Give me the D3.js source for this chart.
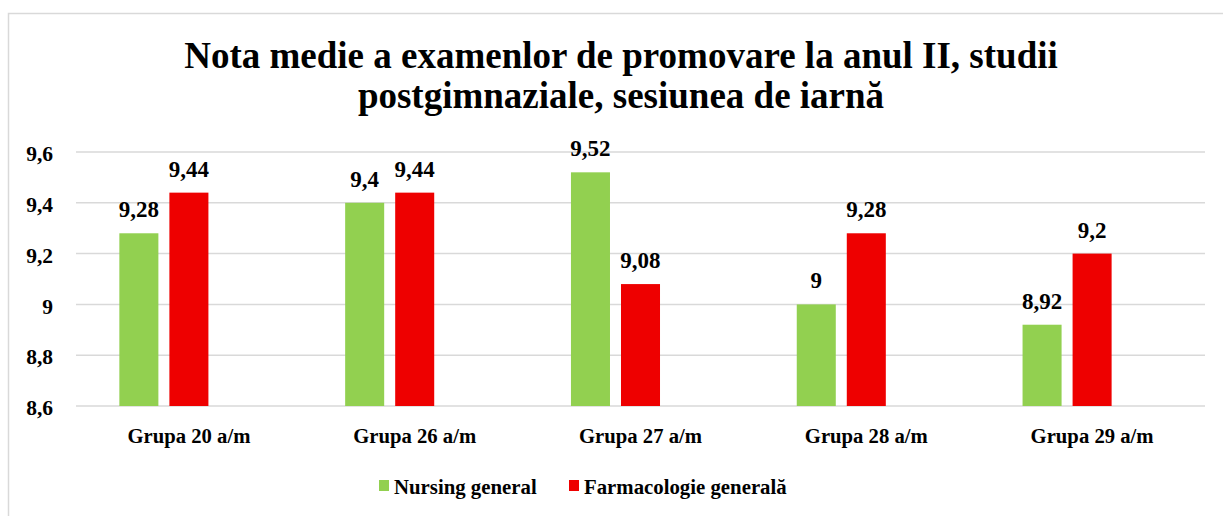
<!DOCTYPE html>
<html lang="ro">
<head>
  <meta charset="UTF-8">
  <title>Nota medie a examenlor de promovare</title>
  <script src="https://d3js.org/d3.v7.min.js"></script>
  <style>
    body {
      margin: 0;
      background: #fff;
    }
    .grid line { stroke: #d9d9d9; stroke-width: 1.5; }
    svg text {
      fill: #000;
      font-weight: bold;
      font-family: "Liberation Serif", "Times New Roman", serif;
    }
  </style>
</head>
<body>
  <div id="chart"></div>
  <script>
    const categories = ["Grupa 20 a/m", "Grupa 26 a/m", "Grupa 27 a/m", "Grupa 28 a/m", "Grupa 29 a/m"];
    const seriesNames = ["Nursing general", "Farmacologie generală"];
    const nursing = [9.28, 9.4, 9.52, 9, 8.92];
    const farmacologie = [9.44, 9.44, 9.08, 9.28, 9.2];
    const yTicks = [8.6, 8.8, 9, 9.2, 9.4, 9.6];
    const colors = ["#92d050", "#ee0000"];

    const W = 1223, H = 516;
    const plot = {left: 76, right: 1205, top: 152, bottom: 406};

    const svg = d3.select("#chart").append("svg")
      .attr("width", W)
      .attr("height", H);

    // chart frame (only top and left visible)
    svg.append("path")
      .attr("d", "M8.5," + H + "V13.5H" + W)
      .attr("fill", "none")
      .attr("stroke", "#d9d9d9")
      .attr("stroke-width", 1.5);

    const x0 = d3.scaleBand().domain(categories)
      .range([plot.left, plot.right])
      .paddingInner(0.384).paddingOuter(0.192);
    // three slots per group, the third one is empty (as in the original)
    const x1 = d3.scaleBand().domain([0, 1, 2])
      .range([0, x0.bandwidth()])
      .paddingInner(0.22);
    const y = d3.scaleLinear().domain([8.6, 9.6]).range([plot.bottom, plot.top]);

    const fmt = v => String(v).replace(".", ",");

    // gridlines
    svg.append("g").attr("class", "grid")
      .selectAll("line")
      .data(yTicks)
      .enter().append("line")
      .attr("x1", plot.left).attr("x2", plot.right)
      .attr("y1", d => y(d)).attr("y2", d => y(d));

    // y axis labels
    svg.append("g")
      .attr("transform", "translate(53,0)")
      .call(d3.axisLeft(y).tickValues(yTicks).tickSize(0).tickPadding(0).tickFormat(fmt))
      .call(g => g.select(".domain").remove())
      .selectAll("text")
      .style("font-size", "21.5px")
      .attr("dy", "0.4em");

    const rows = categories.map((c, i) => ({cat: c, vals: [nursing[i], farmacologie[i]]}));

    const groups = svg.append("g")
      .selectAll("g")
      .data(rows)
      .enter().append("g")
      .attr("transform", d => "translate(" + x0(d.cat) + ",0)");

    groups.selectAll("rect")
      .data(d => d.vals.map((v, k) => ({k, v})))
      .enter().append("rect")
      .attr("x", d => x1(d.k))
      .attr("y", d => y(d.v))
      .attr("width", x1.bandwidth())
      .attr("height", d => y(8.6) - y(d.v))
      .attr("fill", d => colors[d.k]);

    groups.selectAll("text")
      .data(d => d.vals.map((v, k) => ({k, v})))
      .enter().append("text")
      .attr("x", d => x1(d.k) + x1.bandwidth() / 2)
      .attr("y", d => y(d.v) - 16)
      .attr("text-anchor", "middle")
      .style("font-size", "23px")
      .text(d => fmt(d.v));

    // category labels
    svg.append("g")
      .selectAll("text")
      .data(categories)
      .enter().append("text")
      .attr("x", d => x0(d) + x0.bandwidth() / 2)
      .attr("y", 443)
      .attr("text-anchor", "middle")
      .style("font-size", "20.7px")
      .text(d => d);

    // title
    const title = svg.append("text")
      .attr("text-anchor", "middle")
      .style("font-size", "37px");
    title.append("tspan").attr("x", 621).attr("y", 68)
      .text("Nota medie a examenlor de promovare la anul II, studii");
    title.append("tspan").attr("x", 621).attr("y", 108)
      .text("postgimnaziale, sesiunea de iarnă");

    // legend
    const legendX = [379, 569];
    const legend = svg.append("g")
      .selectAll("g")
      .data(seriesNames)
      .enter().append("g")
      .attr("transform", (d, i) => "translate(" + legendX[i] + ",480)");
    legend.append("rect")
      .attr("width", 10).attr("height", 11)
      .attr("fill", (d, i) => colors[i]);
    legend.append("text")
      .attr("x", 15).attr("y", 14)
      .style("font-size", "20.8px")
      .text(d => d);
  </script>
</body>
</html>
